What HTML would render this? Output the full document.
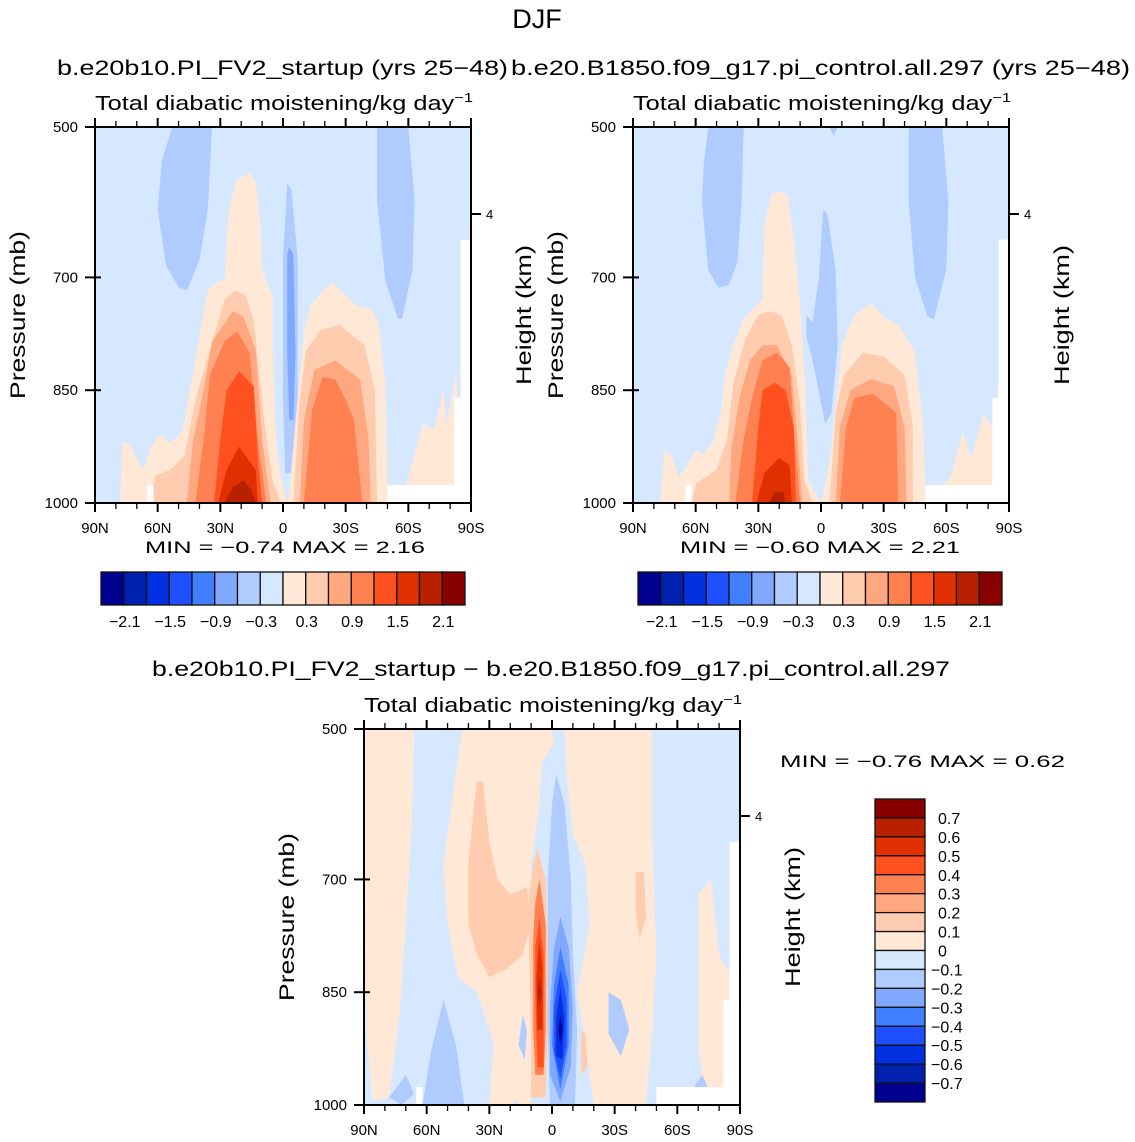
<!DOCTYPE html>
<html><head><meta charset="utf-8"><style>
html,body{margin:0;padding:0;background:#fff;}
svg{display:block;font-family:"Liberation Sans",sans-serif;}
</style></head><body>
<svg id="fig" width="1135" height="1142" viewBox="0 0 1135 1142" xmlns="http://www.w3.org/2000/svg">
<text x="537" y="28" font-size="27" text-anchor="middle">DJF</text>
</svg>
<script>
// ---- Data (contour polygons in [latitude(N+), pressure mb]) ----
const topColors = ["#000090","#0020b0","#0030e0","#1e50ff","#4080ff","#80a8ff","#b0ccff","#d6e8ff","#ffe8d6","#ffccb0","#ffa880","#ff8050","#ff5020","#e03000","#b82000","#880000"];
const topTickLabels = ["\u22122.1","\u22121.5","\u22120.9","\u22120.3","0.3","0.9","1.5","2.1"];
const diffTickLabels = ["0.7","0.6","0.5","0.4","0.3","0.2","0.1","0","\u22120.1","\u22120.2","\u22120.3","\u22120.4","\u22120.5","\u22120.6","\u22120.7"];
const latTicks = [90,60,30,0,-30,-60,-90];
const latLabels = ["90N","60N","30N","0","30S","60S","90S"];
const presTicks = [500,700,850,1000];
const bgLevel1 = 7, bgLevel2 = 7, bgLevel3 = 7;

const panel1Levels = [6,6,6,5,8,8,9,10,11,12,13,14,9,10,11];
const panel1Polys = [
 [[53,500],[34,500],[36,610],[40,677],[46,717],[50,713],[56,684],[60,610],[58,545]],
 [[-45,500],[-60,500],[-63,597],[-62,690],[-57,755],[-55,755],[-49,705],[-45,597]],
 [[-2,575],[-4,583],[-7,675],[-7,860],[-4,960],[-1,960],[0,860],[0,675]],
 [[-3,660],[-5,670],[-6,800],[-5,890],[-3,890],[-2,800],[-2,670]],
 [[78,1000],[77,920],[75,919],[72,930],[68,953],[66,952],[64,930],[60,912],[58,910],[54,920],[51,914],[48,903],[46,872],[41,793],[36,717],[32,706],[28,703],[26,610],[22,570],[16,561],[13,573],[11,624],[10,690],[5,726],[5,793],[3,934],[0,979],[-2,1000]],
 [[-2,1000],[-3,983],[-10,774],[-13,739],[-19,717],[-24,707],[-29,721],[-35,737],[-43,743],[-46,766],[-49,846],[-50,934],[-50,1000]],
 [[64,1000],[61,963],[54,956],[47,936],[42,863],[33,777],[28,730],[23,717],[18,723],[14,757],[12,810],[9,890],[5,970],[1,1000]],
 [[46,1000],[43,916],[38,850],[34,785],[24,745],[19,752],[13,797],[10,916],[6,1000]],
 [[42,1000],[38,916],[35,830],[28,785],[22,772],[16,800],[12,916],[8,1000]],
 [[33,1000],[30,916],[27,850],[21,825],[14,845],[12,943],[10,1000]],
 [[31,1000],[27,956],[21,925],[13,956],[12,1000]],
 [[28,1000],[24,979],[19,970],[15,983],[13,1000]],
 [[-5,1000],[-8,863],[-11,797],[-18,770],[-27,763],[-39,790],[-44,850],[-45,1000]],
 [[-8,1000],[-10,890],[-15,823],[-25,810],[-37,836],[-41,916],[-42,1000]],
 [[-10,1000],[-14,876],[-19,832],[-25,836],[-30,863],[-34,890],[-38,1000]]
];
const panel1Extra = [[-59,976],[-67,894],[-72,903],[-77,850],[-78,899],[-83,827],[-85,956],[-85,976]];

const panel2Levels = [6,6,6,6,8,8,9,10,11,12,13,14,9,10,11];
const panel2Polys = [
 [[54,500],[37,500],[38,600],[40,680],[44,710],[49,714],[54,690],[57,600],[56,545]],
 [[-42,500],[-58,500],[-61,600],[-60,690],[-54,756],[-51,752],[-45,700],[-42,600]],
 [[-1,610],[-3,615],[-7,690],[-8,790],[-5,880],[-2,895],[4,810],[7,780],[7,750],[4,760],[1,700]],
 [[-4,500],[-8,500],[-6,512]],
 [[77,1000],[75,930],[72,935],[68,965],[64,950],[60,930],[56,935],[52,920],[48,880],[46,830],[42,790],[37,755],[32,740],[28,730],[27,630],[24,590],[19,585],[16,590],[13,650],[10,735],[8,830],[6,970],[2,990],[0,1000]],
 [[0,1000],[-4,950],[-10,790],[-16,750],[-24,735],[-30,752],[-38,766],[-45,800],[-49,900],[-50,1000]],
 [[62,1000],[60,975],[55,965],[50,955],[45,915],[42,840],[36,780],[30,750],[25,745],[19,750],[14,790],[10,870],[8,970],[4,1000]],
 [[44,1000],[43,930],[39,860],[34,810],[28,790],[21,790],[14,830],[11,920],[9,1000]],
 [[41,1000],[37,915],[33,860],[28,810],[21,800],[15,820],[13,900],[10,1000]],
 [[33,1000],[30,900],[28,850],[22,840],[17,850],[13,900],[12,1000]],
 [[31,1000],[27,960],[20,940],[15,950],[14,1000]],
 [[25,1000],[22,985],[18,985],[17,1000]],
 [[-4,1000],[-7,880],[-11,830],[-20,800],[-30,805],[-40,830],[-44,900],[-44,1000]],
 [[-7,1000],[-9,900],[-14,850],[-24,835],[-35,845],[-40,900],[-41,1000]],
 [[-9,1000],[-12,900],[-16,860],[-25,855],[-36,880],[-37,1000]]
];
const panel2Extra = [[-55,985],[-62,965],[-68,905],[-72,940],[-78,880],[-82,900],[-86,820],[-85,976]];

const panel3Levels = [8,8,8,8,8,9,9,9,11,12,13,14,6,6,6,5,4,3,2,0,6,6,6,9];
const panel3Polys = [
 [[90,500],[66,500],[67,620],[70,760],[73,880],[78,990],[86,995],[89,900]],
 [[43,500],[0,500],[-1,520],[5,545],[6,600],[10,680],[9,760],[10,850],[8,930],[10,1000],[16,1000],[24,960],[30,900],[36,850],[45,830],[50,760],[52,680],[48,600],[45,540]],
 [[-6,500],[-48,500],[-48,650],[-50,800],[-48,900],[-45,1000],[-20,1000],[-15,900],[-12,850],[-18,760],[-16,680],[-10,640],[-7,560]],
 [[-70,720],[-70,820],[-70,920],[-73,990],[-82,985],[-86,900],[-88,840],[-80,800],[-76,700]],
 [[30,1000],[28,920],[24,890],[20,930],[18,1000]],
 [[36,570],[33,570],[30,650],[26,700],[20,720],[12,710],[10,760],[14,800],[22,820],[30,830],[36,800],[40,760],[40,680],[38,620]],
 [[7,657],[3,700],[2,800],[2,900],[3,990],[10,990],[10,900],[11,800],[11,720],[9,680]],
 [[-40,690],[-44,690],[-45,750],[-42,780],[-40,740]],
 [[6,700],[3,760],[3,900],[4,960],[8,960],[9,900],[9,780],[8,730]],
 [[6,750],[4,800],[4,950],[7,950],[8,850],[8,790]],
 [[6,780],[4.5,820],[4.5,900],[7,900],[7.5,830]],
 [[6,830],[5,850],[6,870],[7,850]],
 [[-2,560],[-6,600],[-9,700],[-10,800],[-12,900],[-11,1000],[1,1000],[2,900],[2,700],[0,600]],
 [[-27,850],[-33,860],[-37,900],[-33,935],[-27,905]],
 [[52,860],[46,920],[42,1000],[62,1000],[58,930]],
 [[-4,750],[-1,790],[1,870],[1,960],[-4,995],[-9,950],[-10,870],[-8,790]],
 [[-4,790],[-1,840],[0,920],[-4,980],[-8,920],[-8,840]],
 [[-4,820],[-1,870],[-1,930],[-4,965],[-7,920],[-7,860]],
 [[-4,845],[-2,885],[-2,935],[-5,940],[-6,885]],
 [[-4,880],[-3,900],[-4,920],[-5,900]],
 [[14,880],[12,900],[13,940],[16,920]],
 [[70,960],[66,985],[72,1000],[78,990]],
 [[-68,975],[-72,960],[-76,985],[-70,990]],
 [[-14,900],[-16,905],[-17,950],[-14,960]]
];

const masks = [[[-50,976],[-91,976],[-91,1001],[-50,1001]],[[-85,650],[-91,650],[-91,1001],[-85,1001]],[[-82,860],[-91,860],[-91,1001],[-82,1001]],[[65,976],[62,976],[62,1001],[65,1001]]];

// ---- Drawing ----
const NS = "http://www.w3.org/2000/svg";
const svg = document.getElementById('fig');
function mk(tag, attrs, parent, txt){
  const e = document.createElementNS(NS, tag);
  for (const k in attrs) e.setAttribute(k, attrs[k]);
  if (txt !== undefined) e.textContent = txt;
  (parent||svg).appendChild(e); return e;
}
function makeX(x0){ return lat => x0 + (90 - lat) / 180 * 376; }
function makeY(y0){ return p => y0 + (p - 500) / 500 * 376; }

function panel(x0, y0, colors, levels, polys, extra, bg, id){
  const X = makeX(x0), Y = makeY(y0);
  const g = mk('g', {});
  
  
  const bgR = mk('rect', {x:x0, y:y0, width:376, height:376, fill:colors[bg]}, g);
  
  
  polys.forEach((pts, i) => {
    const pl = mk('polygon', {points: pts.map(q => X(q[0]).toFixed(1)+','+Y(q[1]).toFixed(1)).join(' '), fill: colors[levels[i]]}, g);
    
    
  });
  if (extra){
    const pl = mk('polygon', {points: extra.map(q => X(q[0])+','+Y(q[1])).join(' '), fill: colors[8]}, g);
    
    
  }
  masks.forEach((pts, i) => {
    const pl = mk('polygon', {points: pts.map(q => Math.min(X(q[0]), x0+376)+','+Math.min(Y(q[1]), y0+376)).join(' '), fill:'#fff'}, g);
    
    
  });
  const fr = mk('rect', {x:x0, y:y0, width:376, height:376, fill:'none', stroke:'#000', 'stroke-width':2}, g);
  
  
  for (let lat = 90; lat >= -90; lat -= 10){
    const major = lat % 30 === 0, x = X(lat);
    mk('line', {x1:x, x2:x, y1:y0, y2:y0 - (major?9:6), stroke:'#000', 'stroke-width':major?2:1.3}, g);
    mk('line', {x1:x, x2:x, y1:y0+376, y2:y0+376 + (major?9:6), stroke:'#000', 'stroke-width':major?2:1.3}, g);
  }
  latTicks.forEach((lat, i) => {
    const t = mk('text', {x:X(lat), y:y0+376+30, 'font-size':15, 'text-anchor':'middle'}, g, latLabels[i]);
    
    
  });
  presTicks.forEach(p => {
    const y = Y(p);
    mk('line', {x1:x0-10, x2:x0+6, y1:y, y2:y, stroke:'#000', 'stroke-width':2}, g);
    const t = mk('text', {x:x0-17, y:y+5, 'font-size':15, 'text-anchor':'end'}, g, String(p));
    
    
  });
  const yh = y0 + 87;
  mk('line', {x1:x0+376, x2:x0+386, y1:yh, y2:yh, stroke:'#000', 'stroke-width':2}, g);
  const th = mk('text', {x:x0+391, y:yh+5, 'font-size':13}, g, '4');
  
  
  const py = mk('text', {x:0, y:0, 'font-size':21, 'text-anchor':'middle', textLength:168, lengthAdjust:'spacingAndGlyphs', transform:'translate('+(x0-70)+','+(y0+188)+') rotate(-90)'}, g, 'Pressure  (mb)');
  
  
  const hy = mk('text', {x:0, y:0, 'font-size':21, 'text-anchor':'middle', textLength:140, lengthAdjust:'spacingAndGlyphs', transform:'translate('+(x0+436)+','+(y0+188)+') rotate(-90)'}, g, 'Height  (km)');
  
  
  const st = mk('text', {x:x0, y:y0-17, 'font-size':20, textLength:378, lengthAdjust:'spacingAndGlyphs'}, g);
  
  
  st.appendChild(document.createTextNode('Total diabatic moistening/kg day'));
  mk('tspan', {dy:-8, 'font-size':13}, st, '\u22121');
}

function hbar(x0, y0, id){
  const w = 364/16;
  topColors.forEach((c, i) => {
    const r = mk('rect', {x:x0+i*w, y:y0, width:w, height:33, fill:c, stroke:'#111', 'stroke-width':1.3});
    
    
  });
  topTickLabels.forEach((l, i) => {
    const t = mk('text', {x:x0 + (1+2*i)*w + 1, y:y0+55, 'font-size':16, 'text-anchor':'middle'}, svg, l);
    
    
  });
}

panel(95, 127, topColors, panel1Levels, panel1Polys, panel1Extra, bgLevel1, 'panel1');
panel(633, 127, topColors, panel2Levels, panel2Polys, panel2Extra, bgLevel2, 'panel2');
panel(364, 729, topColors, panel3Levels, panel3Polys, null, bgLevel3, 'panel3');
hbar(101, 572, 'panel1');
hbar(638, 572, 'panel2');

const vh = 303/16;
topColors.slice().reverse().forEach((c, i) => {
  const r = mk('rect', {x:875, y:799+i*vh, width:50, height:vh, fill:c, stroke:'#111', 'stroke-width':1.3});
  
  
});
diffTickLabels.forEach((l, i) => {
  const t = mk('text', {x:l[0]==='\u2212'?931:938, y:799+(i+1)*vh+6, 'font-size':16}, svg, l);
  
  
});

function txt(name, x, y, size, s, anchor, len){
  const a = {x:x, y:y, 'font-size':size, 'text-anchor':anchor||'start'};
  if (len){ a.textLength = len; a.lengthAdjust = 'spacingAndGlyphs'; }
  const t = mk('text', a, svg, s);
  
  
}
txt('panel1-title', 57, 75, 21, 'b.e20b10.PI_FV2_startup (yrs 25\u221248)', 'start', 451);
txt('panel2-title', 511, 75, 21, 'b.e20.B1850.f09_g17.pi_control.all.297 (yrs 25\u221248)', 'start', 619);
txt('panel3-title', 152, 676, 21, 'b.e20b10.PI_FV2_startup \u2212 b.e20.B1850.f09_g17.pi_control.all.297', 'start', 798);
txt('panel1-minmax', 145, 553, 17, 'MIN =   \u22120.74   MAX =    2.16', 'start', 280);
txt('panel2-minmax', 680, 553, 17, 'MIN =   \u22120.60   MAX =    2.21', 'start', 280);
txt('panel3-minmax', 780, 767, 17, 'MIN =   \u22120.76   MAX =    0.62', 'start', 285);
</script>
</body></html>
